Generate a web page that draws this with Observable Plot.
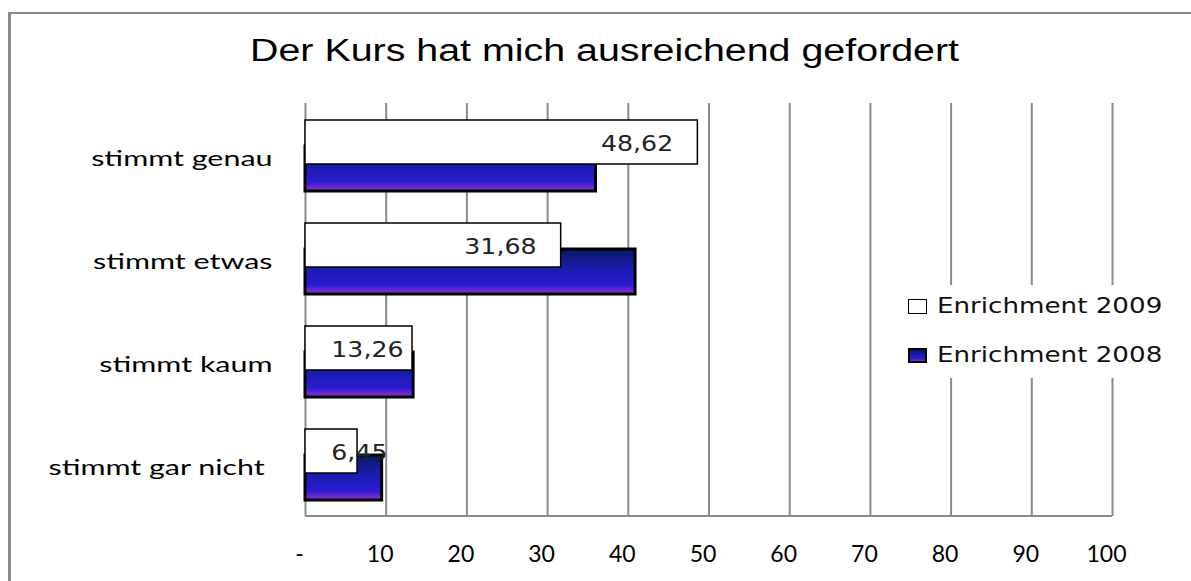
<!DOCTYPE html>
<html><head><meta charset="utf-8">
<script src="https://cdn.jsdelivr.net/npm/d3@7"></script>
<script src="https://cdn.jsdelivr.net/npm/@observablehq/plot@0.6"></script>
<style>
html,body{margin:0;padding:0;background:#fff;}
#wrap{position:relative;width:1191px;height:581px;overflow:hidden;background:#fff;}
#frame{position:absolute;left:8px;top:12px;width:1300px;height:700px;border-left:3px solid #8a8a8a;border-top:2px solid #8a8a8a;}
#chart{position:absolute;left:0;top:0;}
#title{position:absolute;left:250px;top:35px;font-family:"Liberation Sans",Arial,sans-serif;font-size:31px;line-height:31px;white-space:nowrap;transform:scaleX(1.27);transform-origin:0 0;color:#000;}
#legend{position:absolute;left:900px;top:285px;width:272px;height:93px;background:#fff;}
.row{position:absolute;left:8px;height:24px;display:flex;align-items:center;}
.sw{box-sizing:border-box;width:19px;height:15px;border:1.5px solid #000;margin-right:10px;flex:none;}
.lt{font-family:"DejaVu Sans",sans-serif;font-size:21px;line-height:24px;transform:scaleX(1.245);transform-origin:0 50%;white-space:nowrap;color:#111;}
svg text{white-space:pre;}
</style></head>
<body>
<div id="wrap">
  <div id="frame"></div>
  <div id="chart"></div>
  <div id="title"></div>
  <div id="legend"></div>
</div>
<script>
const title = "Der Kurs hat mich ausreichend gefordert";
const categories = ["stimmt genau", "stimmt etwas", "stimmt kaum", "stimmt gar nicht "];
const series = ["Enrichment 2009", "Enrichment 2008"];
const values2009 = [48.62, 31.68, 13.26, 6.45];
const labels2009 = ["48,62", "31,68", "13,26", "6,45"];
const values2008 = [36.0, 40.9, 13.4, 9.5];
const xTicks = [0, 10, 20, 30, 40, 50, 60, 70, 80, 90, 100];
const xTickLabels = ["-", "10", "20", "30", "40", "50", "60", "70", "80", "90", "100"];

const d2009 = categories.map((c, i) => ({cat: c, value: values2009[i], label: labels2009[i]}));
const d2008 = categories.map((c, i) => ({cat: c, value: values2008[i]}));

const plot = Plot.plot({
  width: 1191,
  height: 581,
  marginLeft: 305,
  marginRight: 79,
  marginTop: 103,
  marginBottom: 65,
  x: {domain: [0, 100]},
  y: {domain: categories, padding: 0},
  style: {background: "transparent", overflow: "visible", fontFamily: "Lato, sans-serif", color: "#000"},
  marks: [
    Plot.ruleX(xTicks, {stroke: "#8a8a8a", strokeWidth: 2}),
    Plot.barX(d2008, {x: "value", y: "cat", insetTop: 42, insetBottom: 16, fill: "url(#g08)", stroke: "#000", strokeWidth: 3}),
    Plot.barX(d2009, {x: "value", y: "cat", insetTop: 16, insetBottom: 43, fill: "#fff", stroke: "#000", strokeWidth: 1.5}),
    Plot.text(d2009, {x: d => Math.max(d.value - 12, 3.2), y: "cat", text: "label", textAnchor: "start", dy: -12, fontSize: 21, fontFamily: "DejaVu Sans, sans-serif", fill: "#222"}),
    Plot.axisX({ticks: xTicks, tickFormat: d => xTickLabels[xTicks.indexOf(d)], tickSize: 0, tickPadding: 29, dx: -6, fontSize: 23, fontFamily: "Liberation Sans Narrow, Lato, sans-serif", label: null}),
    Plot.axisY({tickSize: 0, tickPadding: 33, dy: 3, fontSize: 21, fontFamily: "Lato, sans-serif", label: null})
  ]
});
document.getElementById("chart").appendChild(plot);

const svg = d3.select(plot);
svg.insert("defs", ":first-child").html(
  '<linearGradient id="g08" x1="0" y1="0" x2="0" y2="1">' +
  '<stop offset="0" stop-color="#081860"/><stop offset="0.45" stop-color="#1a1db0"/>' +
  '<stop offset="0.8" stop-color="#2c1cd0"/><stop offset="1" stop-color="#9a2fd4"/></linearGradient>');

// bottom axis line from the plot's own scales
const xs = plot.scale("x"), ys = plot.scale("y");
svg.append("line")
  .attr("x1", xs.range[0]).attr("x2", xs.range[1])
  .attr("y1", ys.range[1]).attr("y2", ys.range[1])
  .attr("stroke", "#8a8a8a").attr("stroke-width", 2);

function stretch(list, k) {
  svg.selectAll("text").filter(function() { return list.includes(this.textContent); }).each(function() {
    const w = this.getComputedTextLength();
    if (w > 0) {
      this.setAttribute("textLength", w * k);
      this.setAttribute("lengthAdjust", "spacingAndGlyphs");
    }
  });
}
stretch(labels2009, 1.2);
stretch(categories, 1.45);

document.getElementById("title").textContent = title;

const legend = document.getElementById("legend");
const swatchFill = ["#fff", "linear-gradient(#081860, #1a1db0 45%, #2c1cd0 80%, #9a2fd4)"];
const rowTops = [9, 58];
series.forEach((s, i) => {
  const row = document.createElement("div");
  row.className = "row";
  row.style.top = rowTops[i] + "px";
  const sw = document.createElement("div");
  sw.className = "sw";
  sw.style.background = swatchFill[i];
  if (i === 1) sw.style.borderWidth = "2px";
  const t = document.createElement("div");
  t.className = "lt";
  t.textContent = s;
  row.appendChild(sw); row.appendChild(t);
  legend.appendChild(row);
});
</script>
</body></html>
